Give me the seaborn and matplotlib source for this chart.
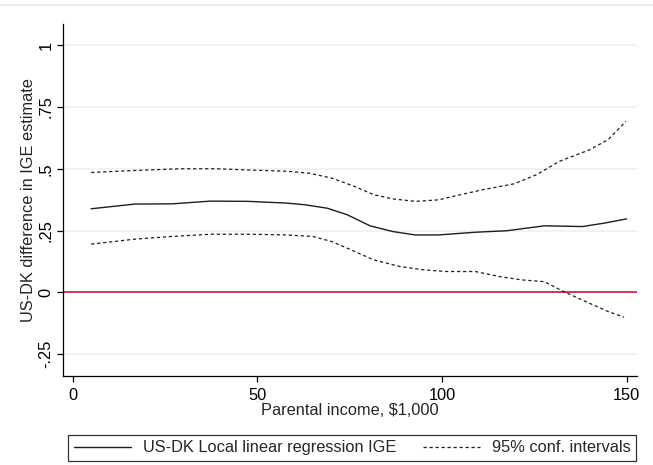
import numpy as np
import pandas as pd
import matplotlib
matplotlib.use("Agg")
import matplotlib.pyplot as plt
from matplotlib.lines import Line2D
import seaborn as sns

# Local linear regression estimate of the US-DK IGE difference
income = [5, 16.8, 27, 37.3, 47.6, 57.9, 63, 69, 74.3, 80.5, 86.6, 92.8,
          99, 109, 117.5, 127.7, 138, 144, 150]
ige_diff = [0.338, 0.357, 0.358, 0.369, 0.368, 0.361, 0.354, 0.340, 0.314,
            0.269, 0.246, 0.232, 0.232, 0.243, 0.249, 0.269, 0.266, 0.280, 0.297]

# Upper 95% confidence bound
upper_x = [5, 16.8, 29, 39, 47.6, 58, 64, 70.2, 76.4, 81.5, 86.6, 92.8, 99,
           105, 111, 119.5, 125.6, 131.8, 140, 145, 149.8]
upper_y = [0.485, 0.493, 0.500, 0.500, 0.495, 0.490, 0.482, 0.462, 0.428,
           0.395, 0.378, 0.368, 0.374, 0.395, 0.415, 0.439, 0.476, 0.530,
           0.577, 0.618, 0.692]

# Lower 95% confidence bound
lower_x = [5, 16.8, 27, 37.3, 47.6, 58, 65, 70.2, 76.4, 81.5, 88.7, 94.9, 101,
           109, 115.4, 121.6, 127.7, 132.9, 140, 145, 149.3]
lower_y = [0.195, 0.215, 0.226, 0.235, 0.235, 0.232, 0.226, 0.205, 0.165,
           0.131, 0.104, 0.091, 0.084, 0.084, 0.064, 0.050, 0.043, 0.003,
           -0.045, -0.078, -0.101]

x_ticks = [0, 50, 100, 150]
y_ticks = [-0.25, 0, 0.25, 0.5, 0.75, 1]
y_tick_labels = ["-.25", "0", ".25", ".5", ".75", "1"]

sns.set_style("ticks")
plt.rcParams["font.family"] = ["Liberation Sans", "DejaVu Sans"]
FS = 11.8

fig = plt.figure(figsize=(6.53, 4.65), dpi=100)
W, H = 653, 465
ax = fig.add_axes([63 / W, 1 - 376 / H, (637 - 63) / W, (376 - 24) / H])

# light horizontal grid
for yv in y_ticks:
    ax.axhline(yv, color="#edf2f3", lw=1.3, zorder=0)

ax.axhline(0, color="#d2143c", lw=1.2, zorder=2)

main = pd.DataFrame({"x": income, "y": ige_diff})
up = pd.DataFrame({"x": upper_x, "y": upper_y})
lo = pd.DataFrame({"x": lower_x, "y": lower_y})

dash = (0, (2.6, 2.2))
sns.lineplot(data=main, x="x", y="y", ax=ax, color="#1e1e1e", lw=1.0,
             estimator=None, sort=False, zorder=3)
sns.lineplot(data=up, x="x", y="y", ax=ax, color="#1e1e1e", lw=0.9,
             linestyle=dash, estimator=None, sort=False, zorder=3)
sns.lineplot(data=lo, x="x", y="y", ax=ax, color="#1e1e1e", lw=0.9,
             linestyle=dash, estimator=None, sort=False, zorder=3)

ax.set_xlim(-2.63, 152.8)
ax.set_ylim(-0.339, 1.086)
ax.set_xticks(x_ticks)
ax.set_xticklabels([str(v) for v in x_ticks], fontsize=FS)
ax.set_yticks(y_ticks)
ax.set_yticklabels(y_tick_labels, fontsize=FS, rotation=90, va="center")
ax.tick_params(axis="both", direction="out", length=4.3, width=0.9,
               color="black", labelcolor="black")
ax.tick_params(axis="x", pad=4)
ax.tick_params(axis="y", pad=2.5)

sns.despine(ax=ax, top=True, right=True)
for s in ("left", "bottom"):
    ax.spines[s].set_color("black")
    ax.spines[s].set_linewidth(0.9)

ax.set_xlabel("Parental income, $1,000", fontsize=FS)
ax.xaxis.set_label_coords(0.5, -(403 - 376) / 352)
ax.set_ylabel("US-DK difference in IGE estimate", fontsize=FS, labelpad=2)

handles = [Line2D([], [], color="#1e1e1e", lw=1.0),
           Line2D([], [], color="#1e1e1e", lw=0.9, linestyle=dash)]
labels = ["US-DK Local linear regression IGE", "95% conf. intervals"]
leg = fig.legend(handles, labels, ncol=2, fontsize=FS, frameon=True,
                 fancybox=False, edgecolor="black", mode="expand",
                 loc="lower left",
                 bbox_to_anchor=(68 / W, 1 - 461 / H, (636 - 68) / W, (461 - 430) / H),
                 bbox_transform=fig.transFigure, handlelength=3.5,
                 handletextpad=0.7, borderpad=0.35, borderaxespad=0,
                 columnspacing=1.5)
leg.get_frame().set_linewidth(0.9)

fig.add_artist(Line2D([0, 1], [1 - 5 / H, 1 - 5 / H], transform=fig.transFigure,
                      color="#e6ecef", lw=1.2))

fig.savefig("out.png", dpi=100)
